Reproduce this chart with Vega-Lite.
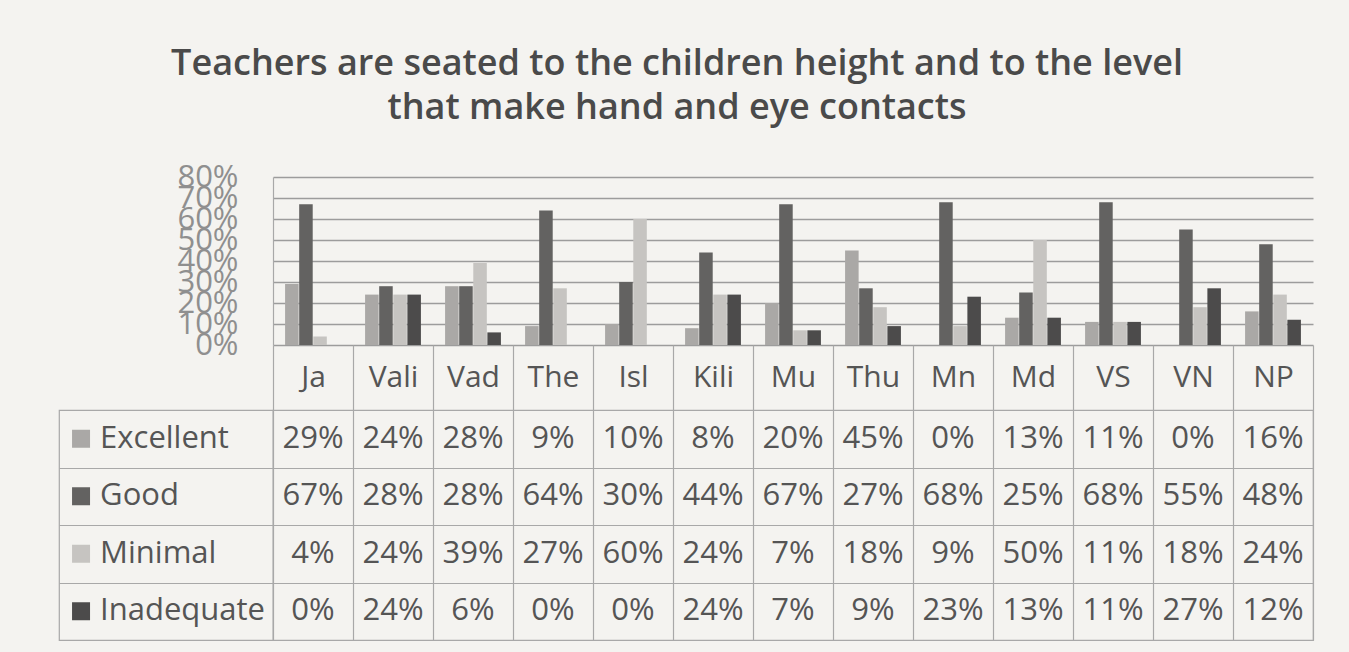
{
  "$schema": "https://vega.github.io/schema/vega-lite/v6.json",
  "background": "#f4f3f0",
  "padding": {"left": 58, "top": 46, "right": 37, "bottom": 14},
  "title": {
    "text": ["Teachers are seated to the children height and to the level", "that make hand and eye contacts"],
    "font": "Open Sans", "fontSize": 36, "fontWeight": 600, "color": "#4a4a4a",
    "lineHeight": 44, "anchor": "middle", "dx": -9, "offset": 34
  },
  "data": {"values": [
    {"cat":"Ja","series":"Excellent","value":0.29},{"cat":"Ja","series":"Good","value":0.67},{"cat":"Ja","series":"Minimal","value":0.04},{"cat":"Ja","series":"Inadequate","value":0.0},
    {"cat":"Vali","series":"Excellent","value":0.24},{"cat":"Vali","series":"Good","value":0.28},{"cat":"Vali","series":"Minimal","value":0.24},{"cat":"Vali","series":"Inadequate","value":0.24},
    {"cat":"Vad","series":"Excellent","value":0.28},{"cat":"Vad","series":"Good","value":0.28},{"cat":"Vad","series":"Minimal","value":0.39},{"cat":"Vad","series":"Inadequate","value":0.06},
    {"cat":"The","series":"Excellent","value":0.09},{"cat":"The","series":"Good","value":0.64},{"cat":"The","series":"Minimal","value":0.27},{"cat":"The","series":"Inadequate","value":0.0},
    {"cat":"Isl","series":"Excellent","value":0.10},{"cat":"Isl","series":"Good","value":0.30},{"cat":"Isl","series":"Minimal","value":0.60},{"cat":"Isl","series":"Inadequate","value":0.0},
    {"cat":"Kili","series":"Excellent","value":0.08},{"cat":"Kili","series":"Good","value":0.44},{"cat":"Kili","series":"Minimal","value":0.24},{"cat":"Kili","series":"Inadequate","value":0.24},
    {"cat":"Mu","series":"Excellent","value":0.20},{"cat":"Mu","series":"Good","value":0.67},{"cat":"Mu","series":"Minimal","value":0.07},{"cat":"Mu","series":"Inadequate","value":0.07},
    {"cat":"Thu","series":"Excellent","value":0.45},{"cat":"Thu","series":"Good","value":0.27},{"cat":"Thu","series":"Minimal","value":0.18},{"cat":"Thu","series":"Inadequate","value":0.09},
    {"cat":"Mn","series":"Excellent","value":0.0},{"cat":"Mn","series":"Good","value":0.68},{"cat":"Mn","series":"Minimal","value":0.09},{"cat":"Mn","series":"Inadequate","value":0.23},
    {"cat":"Md","series":"Excellent","value":0.13},{"cat":"Md","series":"Good","value":0.25},{"cat":"Md","series":"Minimal","value":0.50},{"cat":"Md","series":"Inadequate","value":0.13},
    {"cat":"VS","series":"Excellent","value":0.11},{"cat":"VS","series":"Good","value":0.68},{"cat":"VS","series":"Minimal","value":0.11},{"cat":"VS","series":"Inadequate","value":0.11},
    {"cat":"VN","series":"Excellent","value":0.0},{"cat":"VN","series":"Good","value":0.55},{"cat":"VN","series":"Minimal","value":0.18},{"cat":"VN","series":"Inadequate","value":0.27},
    {"cat":"NP","series":"Excellent","value":0.16},{"cat":"NP","series":"Good","value":0.48},{"cat":"NP","series":"Minimal","value":0.24},{"cat":"NP","series":"Inadequate","value":0.12}
  ]},
  "columns": 2,
  "spacing": {"row": 65, "column": 0},
  "bounds": "flush",
  "config": {
    "view": {"stroke": null},
    "font": "Open Sans"
  },
  "concat": [
    {
      "width": 214, "height": 168,
      "transform": [{"filter": "datum.cat == 'Ja' && datum.series == 'Good'"}],
      "mark": {"type": "text"},
      "encoding": {"text": {"value": ""}}
    },
    {
      "width": 1040, "height": 168,
      "mark": {"type": "bar"},
      "encoding": {
        "x": {
          "field": "cat", "type": "nominal",
          "sort": ["Ja","Vali","Vad","The","Isl","Kili","Mu","Thu","Mn","Md","VS","VN","NP"],
          "scale": {"paddingInner": 0, "paddingOuter": 0},
          "axis": {
            "title": null, "labelAngle": 0, "labelFont": "Open Sans", "labelFontSize": 30,
            "labelColor": "#555555", "labelBaseline": "middle", "labelPadding": -33,
            "tickBand": "extent", "tickSize": 65, "tickColor": "#a8a8a8", "tickWidth": 1.2,
            "domain": false
          }
        },
        "xOffset": {
          "field": "series", "type": "nominal",
          "sort": ["Excellent","Good","Minimal","Inadequate"],
          "scale": {"paddingOuter": 0.857, "paddingInner": 0.04}
        },
        "y": {
          "field": "value", "type": "quantitative",
          "scale": {"domain": [0, 0.8]},
          "axis": {
            "title": null, "format": ".0%", "values": [0,0.1,0.2,0.3,0.4,0.5,0.6,0.7,0.8],
            "labelFont": "Open Sans", "labelFontSize": 31, "labelColor": "#8f8f8f",
            "labelPadding": 35, "ticks": false, "labelOverlap": false,
            "gridColor": "#9c9c9c", "gridWidth": 1.3,
            "domainColor": "#a8a8a8", "domainWidth": 1.2
          }
        },
        "color": {
          "field": "series", "type": "nominal",
          "sort": ["Excellent","Good","Minimal","Inadequate"],
          "scale": {"domain": ["Excellent","Good","Minimal","Inadequate"], "range": ["#aaa8a6","#636261","#c6c4c1","#4c4b4b"]},
          "legend": null
        }
      }
    },
    {
      "width": 214, "height": 230,
      "transform": [{"filter": "datum.cat == 'Ja'"}],
      "view": {"stroke": "#a8a8a8", "strokeWidth": 1.2},
      "layer": [
        {
          "mark": {"type": "point", "shape": "square", "filled": true, "size": 324, "opacity": 1},
          "encoding": {
            "x": {"datum": 1.03, "type": "quantitative", "scale": {"domain": [0, 10]}, "axis": null},
            "y": {
              "field": "series", "type": "nominal",
              "sort": ["Excellent","Good","Minimal","Inadequate"],
              "axis": {"title": null, "labels": false, "ticks": false, "domain": false, "grid": true, "tickBand": "extent", "gridColor": "#a8a8a8", "gridWidth": 1.2}
            },
            "color": {
              "field": "series", "type": "nominal",
              "sort": ["Excellent","Good","Minimal","Inadequate"],
              "scale": {"domain": ["Excellent","Good","Minimal","Inadequate"], "range": ["#aaa8a6","#636261","#c6c4c1","#4c4b4b"]},
              "legend": null
            }
          }
        },
        {
          "mark": {"type": "text", "align": "left", "baseline": "middle", "font": "Open Sans", "fontSize": 31, "color": "#555555"},
          "encoding": {
            "x": {"datum": 1.92, "type": "quantitative"},
            "y": {"field": "series", "type": "nominal", "sort": ["Excellent","Good","Minimal","Inadequate"]},
            "text": {"field": "series"}
          }
        }
      ]
    },
    {
      "width": 1040, "height": 230,
      "view": {"stroke": "#a8a8a8", "strokeWidth": 1.2},
      "mark": {"type": "text", "align": "center", "baseline": "middle", "font": "Open Sans", "fontSize": 31, "color": "#555555"},
      "encoding": {
        "x": {
          "field": "cat", "type": "nominal",
          "sort": ["Ja","Vali","Vad","The","Isl","Kili","Mu","Thu","Mn","Md","VS","VN","NP"],
          "scale": {"paddingInner": 0, "paddingOuter": 0},
          "axis": {"title": null, "labels": false, "ticks": false, "domain": false, "grid": true, "tickBand": "extent", "gridColor": "#a8a8a8", "gridWidth": 1.2}
        },
        "y": {
          "field": "series", "type": "nominal",
          "sort": ["Excellent","Good","Minimal","Inadequate"],
          "axis": {"title": null, "labels": false, "ticks": false, "domain": false, "grid": true, "tickBand": "extent", "gridColor": "#a8a8a8", "gridWidth": 1.2}
        },
        "text": {"field": "value", "type": "quantitative", "format": ".0%"}
      }
    }
  ]
}
